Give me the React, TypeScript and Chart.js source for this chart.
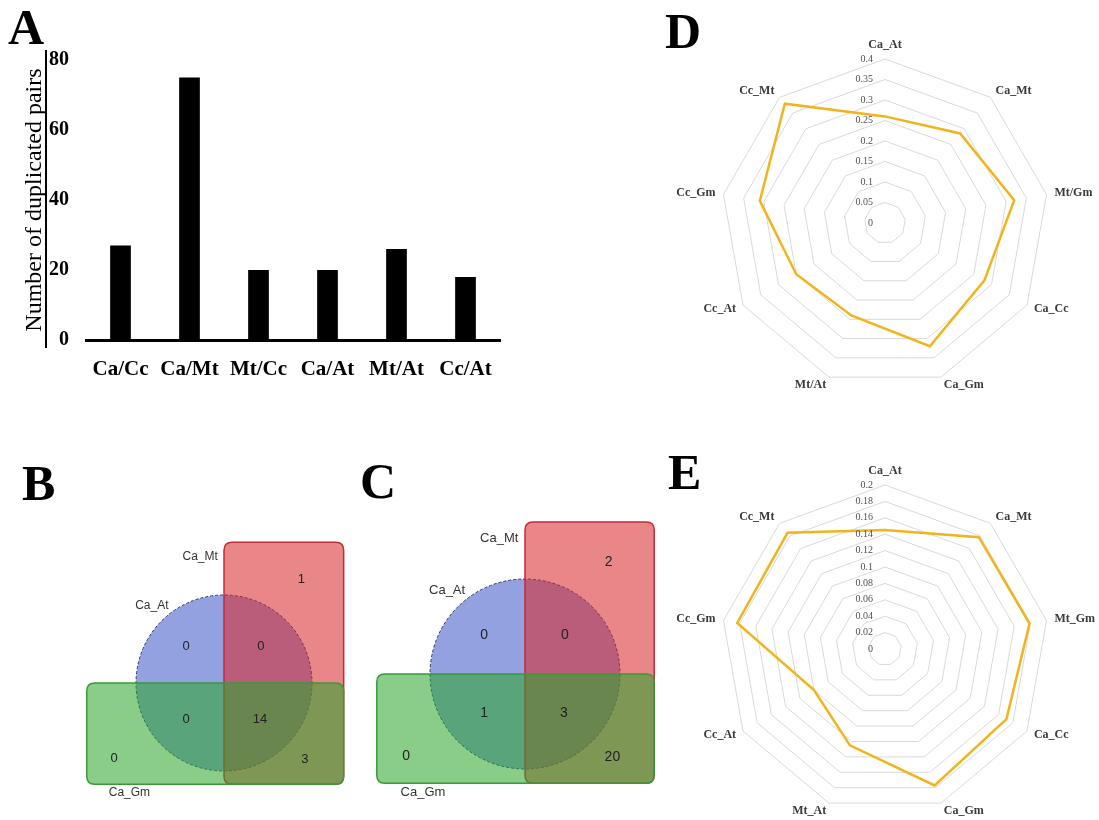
import React, { useEffect, useRef } from "react";
import { Chart, registerables } from "chart.js";

Chart.register(...registerables);

// ---------- Data ----------
const pairCategories = ["Ca/Cc", "Ca/Mt", "Mt/Cc", "Ca/At", "Mt/At", "Cc/At"];
const duplicatedPairs = [27, 75, 20, 20, 26, 18];
const barAxisMax = 80;
const barAxisStep = 20;

const radarLabelsD = ["Ca_At", "Ca_Mt", "Mt/Gm", "Ca_Cc", "Ca_Gm", "Mt/At", "Cc_At", "Cc_Gm", "Cc_Mt"];
const radarValuesD = [0.26, 0.285, 0.32, 0.28, 0.32, 0.24, 0.25, 0.31, 0.38];
const radarMaxD = 0.4;
const radarStepD = 0.05;

const radarLabelsE = ["Ca_At", "Ca_Mt", "Mt_Gm", "Ca_Cc", "Ca_Gm", "Mt_At", "Cc_At", "Cc_Gm", "Cc_Mt"];
const radarValuesE = [0.145, 0.178, 0.179, 0.171, 0.177, 0.125, 0.1, 0.183, 0.185];
const radarMaxE = 0.2;
const radarStepE = 0.02;

// Venn sets: [circle, tall rectangle, wide rectangle]
const vennSetsB = ["Ca_At", "Ca_Mt", "Ca_Gm"];
const vennSetsC = ["Ca_At", "Ca_Mt", "Ca_Gm"];
// Region order: At only, Mt only, Gm only, At∩Mt, At∩Gm, Mt∩Gm, At∩Mt∩Gm
const vennCountsB = [0, 1, 0, 0, 0, 3, 14];
const vennCountsC = [0, 2, 0, 0, 1, 20, 3];

// ---------- Layout (not data) ----------
const SERIF = '"Liberation Serif", "Times New Roman", serif';
const SANS = '"Liberation Sans", Arial, sans-serif';

// Venn geometry in units of the circle radius (circle centred on origin)
const vennShapes = {
  circle: { x: 0, y: 0, r: 1 },
  tall: { x0: 0, x1: 1.36, y0: -1.15, y1: 1.6 },
  wide: { x0: -1.56, x1: 1.36, y0: -1.15, y1: 0 },
};
const vennRegionAnchors = [
  [-0.43, 0.41],
  [0.88, 1.18],
  [-1.25, -0.86],
  [0.42, 0.41],
  [-0.43, -0.41],
  [0.92, -0.87],
  [0.41, -0.41],
];
const vennLabelAnchors = [
  { x: -0.63, y: 0.88, align: "right" },
  { x: -0.07, y: 1.43, align: "right" },
  { x: -1.31, y: -1.25, align: "left" },
];

function fmtTick(v: number) {
  return String(parseFloat(v.toFixed(4)));
}

// ---------- Bar chart (A) ----------
function BarPanel() {
  const ref = useRef<HTMLCanvasElement>(null);
  useEffect(() => {
    const yLine = {
      id: "yLine",
      afterDraw(chart: any) {
        const { ctx, chartArea } = chart;
        ctx.save();
        ctx.strokeStyle = "#000";
        ctx.lineWidth = 2;
        ctx.beginPath();
        const x = chartArea.left - 40;
        ctx.moveTo(x, chartArea.top - 10);
        ctx.lineTo(x, chartArea.bottom + 8);
        ctx.stroke();
        ctx.restore();
      },
    };
    const chart = new Chart(ref.current!, {
      type: "bar",
      data: {
        labels: pairCategories,
        datasets: [
          {
            data: duplicatedPairs,
            backgroundColor: "#000",
            borderWidth: 0,
            barPercentage: 0.3,
            categoryPercentage: 1,
          },
        ],
      },
      options: {
        animation: false,
        responsive: false,
        layout: { padding: { top: 60, right: 30, left: 0, bottom: 0 } },
        plugins: { legend: { display: false }, tooltip: { enabled: false } },
        scales: {
          x: {
            grid: { display: false, drawTicks: false },
            border: { display: true, color: "#000", width: 3 },
            ticks: {
              color: "#000",
              padding: 17,
              font: { family: SERIF, size: 21, weight: "bold" },
            },
            afterFit(s: any) {
              s.height = 60;
            },
          },
          y: {
            min: 0,
            max: barAxisMax,
            grid: { display: false, drawTicks: false },
            border: { display: false },
            ticks: {
              stepSize: barAxisStep,
              color: "#000",
              padding: 17,
              font: { family: SERIF, size: 20, weight: "bold" },
            },
            title: {
              display: true,
              text: "Number of duplicated pairs",
              color: "#000",
              font: { family: SERIF, size: 24 },
              padding: { top: 20, bottom: 0 },
            },
            afterFit(s: any) {
              s.width = 86;
            },
          },
        },
      } as any,
      plugins: [yLine],
    });
    return () => chart.destroy();
  }, []);
  return (
    <canvas
      ref={ref}
      width={530}
      height={400}
      style={{ position: "absolute", left: 0, top: 0, width: 530, height: 400 }}
    />
  );
}

// ---------- Radar charts (D, E) ----------
function RadarPanel(props: {
  labels: string[];
  values: number[];
  max: number;
  step: number;
  left: number;
  top: number;
  width: number;
  height: number;
  padTop: number;
}) {
  const ref = useRef<HTMLCanvasElement>(null);
  useEffect(() => {
    const { labels, values, max, step, width, height, padTop } = props;
    const size = 328;
    const padLeft = 56;
    const radarText = {
      id: "radarText",
      afterDraw(chart: any) {
        const s = chart.scales.r;
        const ctx = chart.ctx;
        ctx.save();
        ctx.fillStyle = "#505050";
        ctx.font = `10px ${SERIF}`;
        ctx.textAlign = "right";
        ctx.textBaseline = "middle";
        s.ticks.forEach((t: any) => {
          const d = s.getDistanceFromCenterForValue(t.value);
          ctx.fillText(fmtTick(t.value), s.xCenter - 12, s.yCenter - d);
        });
        ctx.font = `bold 12px ${SERIF}`;
        ctx.fillStyle = "#3a3a3a";
        const n = chart.data.labels.length;
        chart.data.labels.forEach((lab: string, i: number) => {
          const p = s.getPointPosition(i, s.drawingArea + 8);
          const deg = (i * 360) / n;
          if (deg === 0) {
            ctx.textAlign = "center";
            ctx.textBaseline = "bottom";
          } else if (deg < 180) {
            ctx.textAlign = "left";
            ctx.textBaseline = "middle";
          } else if (deg === 180) {
            ctx.textAlign = "center";
            ctx.textBaseline = "top";
          } else {
            ctx.textAlign = "right";
            ctx.textBaseline = "middle";
          }
          ctx.fillText(lab, p.x, p.y);
        });
        ctx.restore();
      },
    };
    const chart = new Chart(ref.current!, {
      type: "radar",
      data: {
        labels,
        datasets: [
          {
            data: values,
            borderColor: "#f0b41c",
            backgroundColor: "transparent",
            borderWidth: 2.5,
            pointRadius: 0,
            fill: false,
            tension: 0,
          },
        ],
      },
      options: {
        animation: false,
        responsive: false,
        layout: {
          padding: {
            left: padLeft,
            right: width - padLeft - size,
            top: padTop,
            bottom: height - padTop - size,
          },
        },
        plugins: { legend: { display: false }, tooltip: { enabled: false } },
        scales: {
          r: {
            min: 0,
            max,
            ticks: { display: false, stepSize: step },
            pointLabels: { display: false },
            grid: { color: "#d9d9d9", lineWidth: 1 },
            angleLines: { display: false },
          },
        },
      } as any,
      plugins: [radarText],
    });
    return () => chart.destroy();
  }, []);
  return (
    <canvas
      ref={ref}
      width={props.width}
      height={props.height}
      style={{
        position: "absolute",
        left: props.left,
        top: props.top,
        width: props.width,
        height: props.height,
      }}
    />
  );
}

// ---------- Venn diagrams (B, C) ----------
function VennPanel(props: {
  left: number;
  top: number;
  width: number;
  height: number;
  cx: number;
  cy: number;
  r: number;
  sets: string[];
  counts: number[];
}) {
  const ref = useRef<HTMLCanvasElement>(null);
  useEffect(() => {
    const { left, top, width, height, cx, cy, r, sets, counts } = props;
    const xmin = -(cx - left) / r;
    const xmax = (left + width - cx) / r;
    const ymax = (cy - top) / r;
    const ymin = -(top + height - cy) / r;

    const vennDraw = {
      id: "vennDraw",
      afterDraw(chart: any) {
        const ctx = chart.ctx;
        const xs = chart.scales.x;
        const ys = chart.scales.y;
        const X = (v: number) => xs.getPixelForValue(v);
        const Y = (v: number) => ys.getPixelForValue(v);
        const roundRect = (b: any, fill: string, stroke: string) => {
          const x0 = X(b.x0), x1 = X(b.x1), y0 = Y(b.y1), y1 = Y(b.y0);
          const rad = 8;
          ctx.beginPath();
          ctx.moveTo(x0 + rad, y0);
          ctx.lineTo(x1 - rad, y0);
          ctx.quadraticCurveTo(x1, y0, x1, y0 + rad);
          ctx.lineTo(x1, y1 - rad);
          ctx.quadraticCurveTo(x1, y1, x1 - rad, y1);
          ctx.lineTo(x0 + rad, y1);
          ctx.quadraticCurveTo(x0, y1, x0, y1 - rad);
          ctx.lineTo(x0, y0 + rad);
          ctx.quadraticCurveTo(x0, y0, x0 + rad, y0);
          ctx.closePath();
          ctx.fillStyle = fill;
          ctx.fill();
          ctx.strokeStyle = stroke;
          ctx.lineWidth = 1.5;
          ctx.stroke();
        };
        ctx.save();
        // circle
        const c = vennShapes.circle;
        const rp = Math.abs(X(c.r) - X(0));
        ctx.beginPath();
        ctx.arc(X(c.x), Y(c.y), rp, 0, Math.PI * 2);
        ctx.fillStyle = "rgba(50,75,195,0.52)";
        ctx.fill();
        ctx.setLineDash([3, 2]);
        ctx.strokeStyle = "#2a3566";
        ctx.lineWidth = 1;
        ctx.stroke();
        ctx.setLineDash([]);
        roundRect(vennShapes.tall, "rgba(214,40,42,0.56)", "#c42a3a");
        roundRect(vennShapes.wide, "rgba(44,165,44,0.56)", "#3a9a3a");

        // set labels
        ctx.fillStyle = "#333";
        ctx.font = `${Math.round(r * 0.135)}px ${SANS}`;
        ctx.textBaseline = "middle";
        sets.forEach((s: string, i: number) => {
          const a = vennLabelAnchors[i];
          ctx.textAlign = a.align;
          ctx.fillText(s, X(a.x), Y(a.y));
        });
        // counts
        ctx.fillStyle = "#222";
        ctx.font = `${Math.round(r * 0.15)}px ${SANS}`;
        ctx.textAlign = "center";
        counts.forEach((n: number, i: number) => {
          const a = vennRegionAnchors[i];
          ctx.fillText(String(n), X(a[0]), Y(a[1]));
        });
        ctx.restore();
      },
    };

    const chart = new Chart(ref.current!, {
      type: "scatter",
      data: { datasets: [{ data: [] }] },
      options: {
        animation: false,
        responsive: false,
        layout: { padding: 0 },
        plugins: { legend: { display: false }, tooltip: { enabled: false } },
        scales: {
          x: { type: "linear", min: xmin, max: xmax, display: false },
          y: { type: "linear", min: ymin, max: ymax, display: false },
        },
      } as any,
      plugins: [vennDraw],
    });
    return () => chart.destroy();
  }, []);
  return (
    <canvas
      ref={ref}
      width={props.width}
      height={props.height}
      style={{
        position: "absolute",
        left: props.left,
        top: props.top,
        width: props.width,
        height: props.height,
      }}
    />
  );
}

function PanelLetter({ text, left, top }: { text: string; left: number; top: number }) {
  return (
    <div
      style={{
        position: "absolute",
        left,
        top,
        fontFamily: SERIF,
        fontWeight: "bold",
        fontSize: 50,
        lineHeight: 1,
        color: "#000",
      }}
    >
      {text}
    </div>
  );
}

export default function App() {
  return (
    <div
      style={{
        position: "absolute",
        left: 0,
        top: 0,
        width: 1099,
        height: 820,
        overflow: "hidden",
        background: "#fff",
      }}
    >
      <BarPanel />
      <VennPanel
        left={60}
        top={520}
        width={320}
        height={300}
        cx={224}
        cy={683}
        r={88}
        sets={vennSetsB}
        counts={vennCountsB}
      />
      <VennPanel
        left={365}
        top={500}
        width={320}
        height={310}
        cx={525}
        cy={674}
        r={95}
        sets={vennSetsC}
        counts={vennCountsC}
      />
      <RadarPanel
        labels={radarLabelsD}
        values={radarValuesD}
        max={radarMaxD}
        step={radarStepD}
        left={665}
        top={30}
        width={434}
        height={380}
        padTop={29}
      />
      <RadarPanel
        labels={radarLabelsE}
        values={radarValuesE}
        max={radarMaxE}
        step={radarStepE}
        left={665}
        top={455}
        width={434}
        height={365}
        padTop={30}
      />
      <PanelLetter text="A" left={8} top={2} />
      <PanelLetter text="D" left={665} top={6} />
      <PanelLetter text="B" left={22} top={458} />
      <PanelLetter text="C" left={360} top={456} />
      <PanelLetter text="E" left={668} top={447} />
    </div>
  );
}
